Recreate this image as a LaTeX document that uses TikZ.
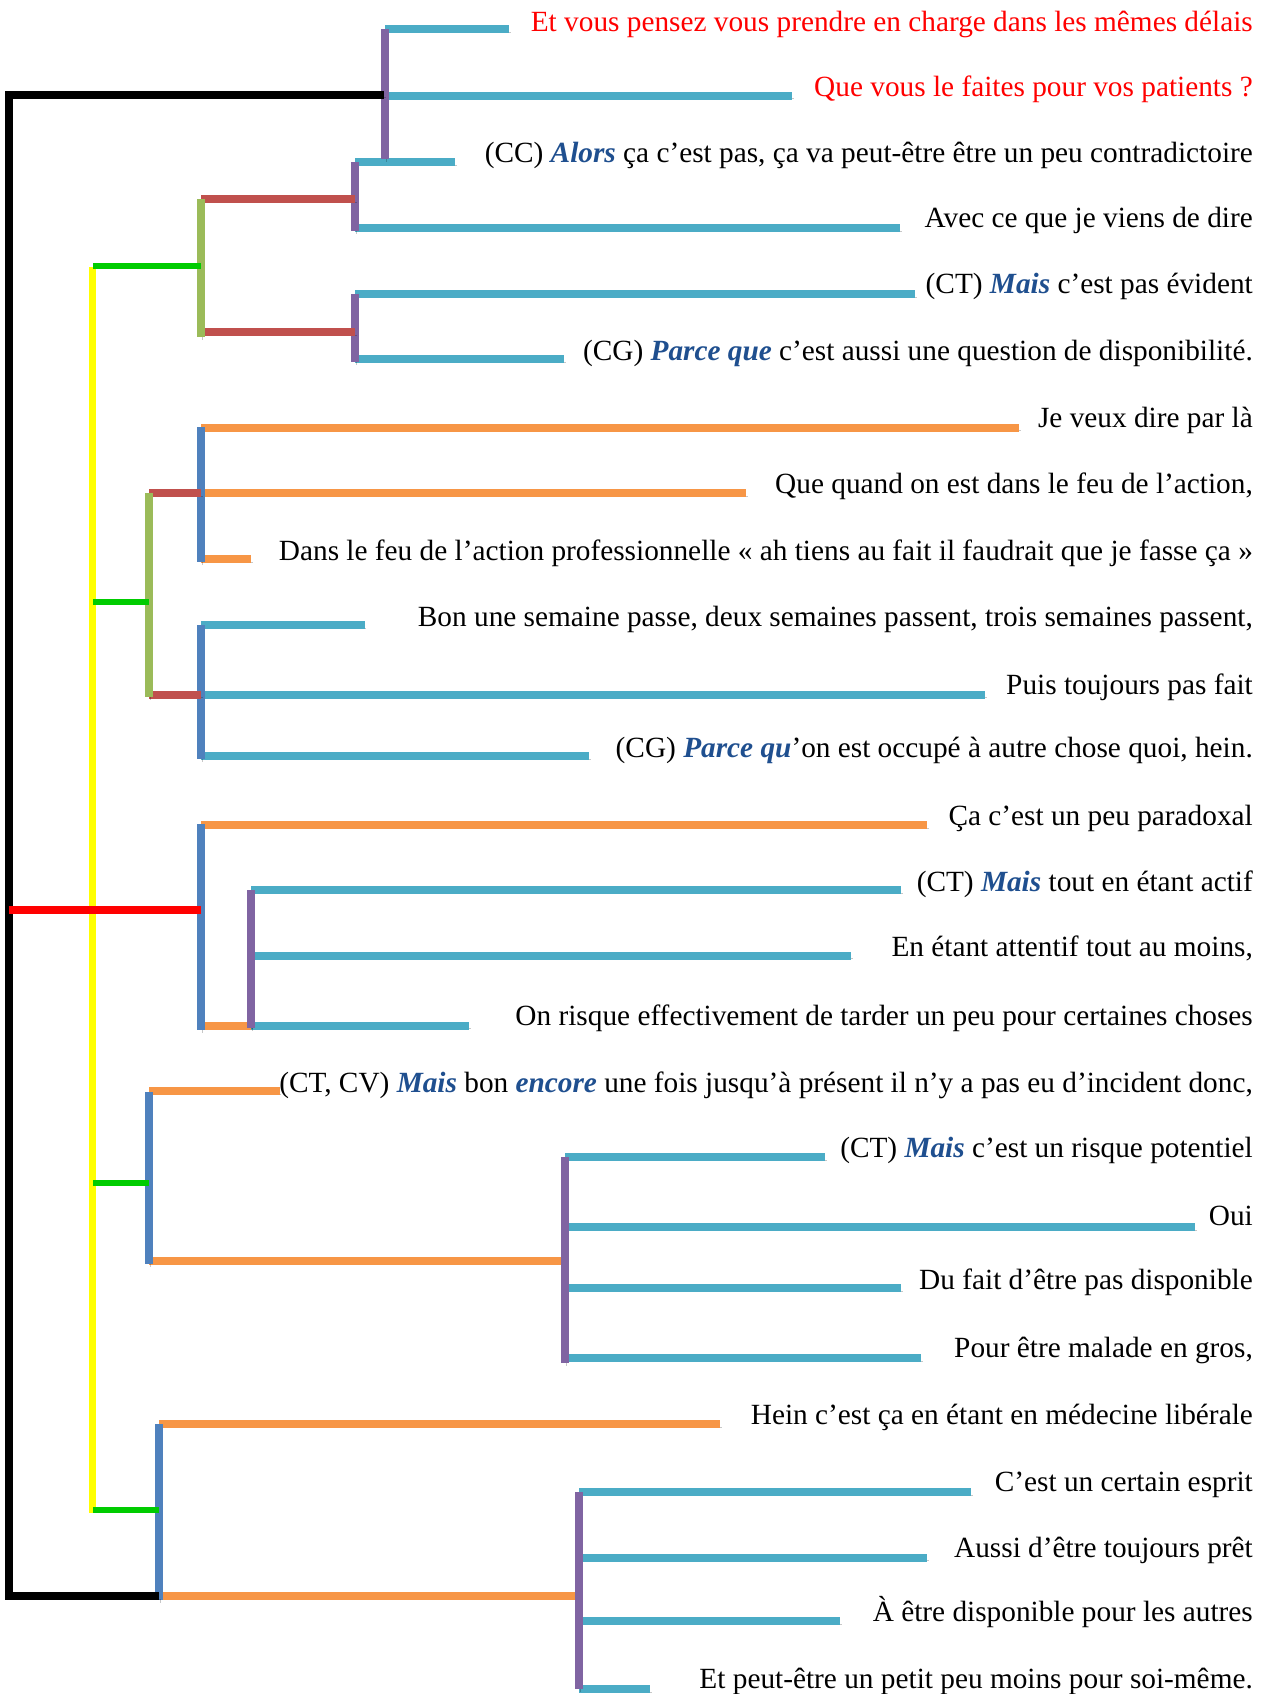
\documentclass[tikz,border=0pt]{standalone}
\usepackage{fontspec}
\setmainfont{Liberation Serif}
\definecolor{cyl}{HTML}{4BACC6}
\definecolor{orl}{HTML}{F79646}
\definecolor{pul}{HTML}{8064A2}
\definecolor{bll}{HTML}{4F81BD}
\definecolor{rdl}{HTML}{C0504D}
\definecolor{oll}{HTML}{9BBB59}
\definecolor{grl}{HTML}{00CC00}
\definecolor{yel}{HTML}{FFFF00}
\definecolor{mrd}{HTML}{FF0000}
\definecolor{tb}{HTML}{1F4F8F}
\newcommand{\kw}[1]{\textcolor{tb}{\textbf{\textit{#1}}}}
\begin{document}
\begin{tikzpicture}[x=1pt,y=-1pt,
  shad/.style={preaction={draw=black,draw opacity=0.22,transform canvas={xshift=1.5pt,yshift=-3pt}}},
  seg/.style={line width=8pt,line cap=butt,shad},
  cyanl/.style={seg,draw=cyl},
  orangel/.style={seg,draw=orl},
  purplel/.style={seg,draw=pul,line width=7.5pt},
  bluel/.style={seg,draw=bll,line width=7.5pt},
  redl/.style={seg,draw=rdl},
  olivel/.style={seg,draw=oll,line width=7.5pt},
  blackl/.style={seg,draw=black,line join=miter},
  greenl/.style={draw=grl,line width=6pt},
  yellowl/.style={draw=yel,line width=7.5pt},
  mainred/.style={draw=mrd,line width=8pt},
  txt/.style={inner sep=0pt,anchor=base east,font=\fontsize{29.3}{35}\selectfont},
  rtxt/.style={txt,text=mrd}]
\useasboundingbox[fill=white] (0,0) rectangle (1266,1694);

% ---- text nodes ----
\node[rtxt] (t1) at (1253,32) {Et vous pensez vous prendre en charge dans les mêmes délais};
\node[rtxt] (t2) at (1253,96) {Que vous le faites pour vos patients ?};
\node[txt] (t3) at (1253,162) {(CC) \kw{Alors} ça c’est pas, ça va peut-être être un peu contradictoire};
\node[txt] (t4) at (1253,227) {Avec ce que je viens de dire};
\node[txt] (t5) at (1253,293) {(CT) \kw{Mais} c’est pas évident};
\node[txt] (t6) at (1253,360) {(CG) \kw{Parce que} c’est aussi une question de disponibilité.};
\node[txt] (t7) at (1253,427.5) {Je veux dire par là};
\node[txt] (t8) at (1253,493) {Que quand on est dans le feu de l’action,};
\node[txt] (t9) at (1253,560) {Dans le feu de l’action professionnelle «~ah tiens au fait il faudrait que je fasse ça~»};
\node[txt] (t10) at (1253,626) {Bon une semaine passe, deux semaines passent, trois semaines passent,};
\node[txt] (t11) at (1253,694.5) {Puis toujours pas fait};
\node[txt] (t12) at (1253,757) {(CG) \kw{Parce qu}’on est occupé à autre chose quoi, hein.};
\node[txt] (t13) at (1253,825) {Ça c’est un peu paradoxal};
\node[txt] (t14) at (1253,891) {(CT) \kw{Mais} tout en étant actif};
\node[txt] (t15) at (1253,956) {En étant attentif tout au moins,};
\node[txt] (t16) at (1253,1025.5) {On risque effectivement de tarder un peu pour certaines choses};
\node[txt] (t17) at (1253,1092) {(CT, CV) \kw{Mais} bon \kw{encore} une fois jusqu’à présent il n’y a pas eu d’incident donc,};
\node[txt] (t18) at (1253,1157) {(CT) \kw{Mais} c’est un risque potentiel};
\node[txt] (t19) at (1253,1225) {Oui};
\node[txt] (t20) at (1253,1289) {Du fait d’être pas disponible};
\node[txt] (t21) at (1253,1357) {Pour être malade en gros,};
\node[txt] (t22) at (1253,1424) {Hein c’est ça en étant en médecine libérale};
\node[txt] (t23) at (1253,1491) {C’est un certain esprit};
\node[txt] (t24) at (1253,1557.5) {Aussi d’être toujours prêt};
\node[txt] (t25) at (1253,1621) {À être disponible pour les autres};
\node[txt] (t26) at (1253,1688) {Et peut-être un petit peu moins pour soi-même.};

% ---- leaf ends ----
\coordinate (e1) at (509,29);
\coordinate (e2) at (792,95.5);
\coordinate (e3) at (455,162);
\coordinate (e4) at (900,228);
\coordinate (e5) at (915,294);
\coordinate (e6) at (564,359);
\coordinate (e7) at (1019,427.5);
\coordinate (e8) at (746,493);
\coordinate (e9) at (251,559);
\coordinate (e10) at (364.5,625);
\coordinate (e11) at (985,694.5);
\coordinate (e12) at (589,756);
\coordinate (e13) at (927,825);
\coordinate (e14) at (901,890);
\coordinate (e15) at (851,955.5);
\coordinate (e16) at (469,1025.5);
\coordinate (e17) at (279.5,1091);
\coordinate (e18) at (825,1157);
\coordinate (e19) at (1195,1227);
\coordinate (e20) at (901,1288);
\coordinate (e21) at (921,1358);
\coordinate (e22) at (720,1424);
\coordinate (e23) at (971,1492);
\coordinate (e24) at (927,1557.5);
\coordinate (e25) at (840,1621);
\coordinate (e26) at (650,1689);

% ---- group 1 ----
\draw[cyanl] (385,29) -- (e1);
\draw[cyanl] (385,95.5) -- (e2);
\draw[cyanl] (355,162) -- (e3);
\draw[cyanl] (355,228) -- (e4);
\draw[cyanl] (355,294) -- (e5);
\draw[cyanl] (355,359) -- (e6);
\draw[purplel] (385,29) -- (385,159);
\draw[purplel] (355,162) -- (355,231);
\draw[purplel] (355,294) -- (355,362);
\draw[redl] (201,198.7) -- (355,198.7);
\draw[redl] (201,332) -- (355,332);
\draw[olivel] (201,199) -- (201,337);

% ---- group 2 ----
\draw[orangel] (201,427.5) -- (e7);
\draw[orangel] (201,493) -- (e8);
\draw[orangel] (201,559) -- (e9);
\draw[bluel] (201,427) -- (201,562);
\draw[cyanl] (201,625) -- (e10);
\draw[cyanl] (201,694.5) -- (e11);
\draw[cyanl] (201,756) -- (e12);
\draw[bluel] (201,625) -- (201,759);
\draw[redl] (149,493) -- (201,493);
\draw[redl] (149,694.5) -- (201,694.5);
\draw[olivel] (149,493) -- (149,697);

% ---- group 3 ----
\draw[orangel] (201,825) -- (e13);
\draw[cyanl] (251,890) -- (e14);
\draw[cyanl] (251,955.5) -- (e15);
\draw[cyanl] (251,1025.5) -- (e16);
\draw[orangel] (201,1025.5) -- (251,1025.5);
\draw[purplel] (251,890) -- (251,1028);
\draw[bluel] (201,824) -- (201,1030);

% ---- group 4 ----
\draw[orangel] (149,1091) -- (e17);
\draw[cyanl] (565,1157) -- (e18);
\draw[cyanl] (565,1227) -- (e19);
\draw[cyanl] (565,1288) -- (e20);
\draw[cyanl] (565,1358) -- (e21);
\draw[orangel] (149,1261) -- (565,1261);
\draw[purplel] (565,1157) -- (565,1363);
\draw[bluel] (149,1092) -- (149,1264);

% ---- group 5 ----
\draw[orangel] (159,1424) -- (e22);
\draw[cyanl] (579,1492) -- (e23);
\draw[cyanl] (579,1557.5) -- (e24);
\draw[cyanl] (579,1621) -- (e25);
\draw[cyanl] (579,1689) -- (e26);
\draw[orangel] (159,1596) -- (579,1596);
\draw[purplel] (579,1492) -- (579,1689);
\draw[bluel] (159,1424) -- (159,1600);

% ---- yellow spine and green links ----
\draw[yellowl] (92.5,267) -- (92.5,1513);
\draw[greenl] (93,266) -- (201,266);
\draw[greenl] (93,602) -- (149,602);
\draw[greenl] (93,1183) -- (149,1183);
\draw[greenl] (93,1510) -- (159,1510);

% ---- root ----
\draw[blackl] (384,94.5) -- (8.5,94.5) -- (8.5,1596) -- (159,1596);
\draw[mainred] (8.5,909.7) -- (201,909.7);
\end{tikzpicture}
\end{document}
